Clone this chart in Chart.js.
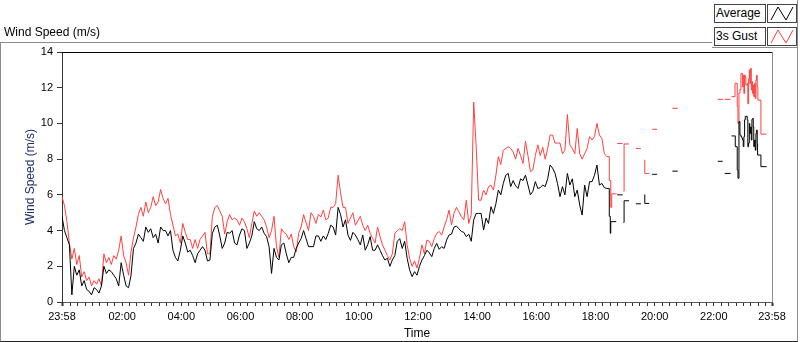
<!DOCTYPE html>
<html>
<head>
<meta charset="utf-8">
<script src="https://cdn.jsdelivr.net/npm/chart.js@4.4.1/dist/chart.umd.min.js"></script>
<style>
  body { margin: 0; background: #fff; font-family: "Liberation Sans", Arial, sans-serif; }
  #wrap { position: relative; width: 800px; height: 342px; overflow: hidden; }
  #chart { position: absolute; left: 0; top: 0; }
  #frame { position: absolute; left: 0; top: 42px; width: 796px; height: 298px; border: 1px solid #8c8c8c; border-bottom-color: #222; pointer-events: none; }
  #title { position: absolute; left: 4px; top: 25px; font-size: 12px; color: #000; }
  #legpanel { position: absolute; left: 712px; top: 0; width: 85px; height: 47px; background: #fff; border-bottom: 1px solid #8c8c8c; border-right: 1px solid #8c8c8c; }
  .lbl { position: absolute; left: 714px; width: 49px; height: 17px; border: 1px solid #444; font-size: 12px; line-height: 17px; padding-left: 1px; box-sizing: content-box; background: #fff; }
  .ico { position: absolute; left: 767px; width: 28px; height: 17px; border: 1px solid #444; background: #fff; }
</style>
</head>
<body>
<div id="wrap">
  <canvas id="chart" width="800" height="342"></canvas>
  <div id="frame"></div>
  <div id="title">Wind Speed (m/s)</div>
  <div id="legpanel"></div>
  <div class="lbl" style="top:4px">Average</div>
  <div class="ico" style="top:4px"><svg width="28" height="17"><polyline points="3,15 10,2 18,15 25,2" fill="none" stroke="#000" stroke-width="1"/></svg></div>
  <div class="lbl" style="top:27px">3s Gust</div>
  <div class="ico" style="top:27px"><svg width="28" height="17"><polyline points="3,15 10,2 18,15 25,2" fill="none" stroke="#ff4040" stroke-width="1"/></svg></div>
</div>
<script>
// minutes after 23:58, dense part sampled every 5 min (0 .. 1105)
var step = 5;

var avgDense = [
  4.8,4.0,3.6,3.2,0.4,2.0,1.5,1.8,0.9,1.2,0.7,0.6,
  0.4,0.8,0.7,0.5,0.9,2.0,1.6,1.8,1.7,1.5,1.3,0.9,
  2.2,1.5,0.9,0.8,1.5,3.0,3.3,3.8,3.6,3.4,4.2,3.9,
  4.1,3.6,3.8,3.3,4.2,4.0,4.0,3.7,4.0,2.9,2.5,2.3,
  2.9,3.7,3.3,2.8,2.9,2.6,2.2,2.7,2.9,3.1,2.9,2.3,
  2.35,3.85,4.2,4.3,3.7,3.0,3.3,3.9,3.85,4.0,3.3,3.2,
  3.75,4.1,4.0,3.0,3.3,3.7,4.5,4.1,4.0,4.2,3.85,3.66,
  3.1,1.6,3.0,2.5,2.35,3.2,3.3,2.7,2.2,2.5,2.5,3.0,
  3.3,3.55,4.0,3.55,3.1,3.1,3.1,3.7,3.7,3.4,3.7,3.5,
  3.85,4.3,4.2,3.75,5.3,4.9,4.2,4.6,3.75,3.45,3.9,3.75,
  3.5,3.2,3.75,2.9,3.2,3.66,2.9,2.9,3.2,2.9,2.6,2.35,
  2.45,2.0,2.35,2.6,3.4,3.55,3.0,3.4,2.45,1.8,1.42,1.7,
  1.5,2.0,2.35,2.6,2.9,2.75,2.54,3.0,3.28,2.95,3.1,3.0,
  3.47,3.75,3.8,4.2,4.25,4.1,3.95,3.9,3.66,3.8,3.4,4.6,
  4.96,4.96,4.96,4.03,4.7,4.4,5.34,4.96,5.5,6.27,6.0,6.64,
  7.1,7.2,6.46,6.8,6.5,6.36,6.9,6.8,7.1,6.55,6.0,6.2,
  6.74,6.36,6.4,6.55,6.46,6.9,7.67,7.5,7.2,6.64,5.9,6.46,
  6.0,7.2,6.55,6.9,5.9,6.27,5.43,4.87,6.55,5.9,6.74,6.74,
  7.1,7.67,6.55,6.64,6.4,6.36
];

var gustDense = [
  5.9,5.4,4.5,3.3,2.4,3.0,2.1,2.6,1.4,1.7,1.2,1.4,
  0.9,1.2,1.0,1.3,0.9,2.7,2.2,2.5,2.1,2.6,2.4,2.9,
  3.7,2.6,2.2,1.5,2.8,3.6,4.2,4.9,5.3,4.8,5.6,5.0,
  5.3,5.9,5.4,5.6,6.3,5.8,5.5,5.8,4.9,4.3,3.7,3.8,
  3.3,4.4,3.9,3.5,3.5,3.0,3.5,3.0,3.5,3.7,3.9,2.7,
  2.7,4.8,5.3,5.4,5.1,4.8,3.8,4.5,4.9,4.6,4.7,4.6,
  4.3,4.7,4.5,4.1,3.6,4.4,5.1,4.8,5.0,4.8,4.6,4.2,
  3.6,4.0,4.8,3.1,2.5,4.1,3.9,3.8,3.5,3.8,3.1,2.8,
  3.85,4.2,4.9,4.45,4.0,5.0,4.8,4.4,4.9,4.75,5.15,4.6,
  4.7,5.3,5.3,5.5,7.1,6.1,5.3,5.3,4.4,4.7,5.0,4.3,
  4.55,4.8,4.3,4.0,4.3,3.85,3.55,3.3,4.2,3.66,3.2,2.9,
  2.6,2.35,2.7,3.85,4.0,4.1,4.0,4.5,3.2,2.45,2.0,2.3,
  1.9,2.45,3.2,2.7,3.47,3.4,3.1,3.55,3.85,3.95,3.75,4.2,
  4.6,5.15,4.3,4.96,5.3,5.05,4.78,4.6,5.7,4.4,4.9,11.2,
  8.7,5.7,5.7,6.27,6.0,6.46,6.55,6.27,7.1,8.14,7.7,8.5,
  8.6,8.7,8.6,8.4,8.0,8.6,8.2,7.76,9.0,8.2,7.3,7.4,
  8.2,8.8,8.2,8.66,8.0,8.6,9.35,9.35,8.9,8.9,8.9,8.3,
  8.5,10.5,8.8,8.6,8.3,9.72,8.3,8.0,8.3,8.6,9.26,9.07,
  9.26,10.0,9.35,9.16,8.3,8.14
];

// patchy evening record (null = no data)
var avgTailTime = [1105,1110,1112,1113,1124,1125, 1126,1137,1138, 1139,1140,1150,1157, 1164,1174,1178,
  1181,1182,1191,1194, 1197,1207,1220, 1238,1249,1290, 1330,1340,1342, 1344,1356,1357,
  1358,1365.5,1369.5,1371,1373,1375,1377,1379,1380.4,1381.7,1383,1384.4,1385.8,1389.8,1391,
  1392.5,1394,1395,1396.6,1398,1399.3,1400.6,1402,1403,1404.7,1406,1407.4,1408.7,1410,1410.7,1417.5,1429];
var avgTailValue = [6.36,4.8,3.85,4.5,4.5,null, 6.0,6.0,null, 4.45,5.67,5.67,null, 5.5,5.5,null,
  6.0,5.52,5.52,null, 7.15,7.15,null, 7.33,7.33,null, 7.88,7.88,null, 7.2,7.2,null,
  9.3,8.7,7.4,6.93,10.1,9.35,9.26,9.16,9.07,8.7,9.26,10.2,10.4,10.2,8.7,
  8.9,10.0,9.44,9.8,9.07,10.23,10.28,9.8,8.7,9.07,8.5,9.44,9.63,8.88,8.23,7.58,7.58];

var gustTailTime = [1105,1110,1113,1115,1125,1125.5, 1126,1137,1138, 1139,1140,1150,1157, 1164,1174,1178,
  1181,1182,1191,1194, 1197,1207,1220, 1238,1249,1290, 1330,1341,1342.5, 1344,1356,1357,
  1358,1365,1369.5,1371,1373,1375,1377,1379,1380.4,1381.7,1383,1384.4,1385.8,1387,1389.8,1391,
  1392.5,1394,1395,1396.6,1398,1399.3,1400.6,1402,1403,1404.7,1406,1407.4,1408.7,1410,1411.4,1417.5,1429];
var gustTailValue = [8.14,6.8,5.3,6.06,6.06,null, 8.88,8.88,null, 6.2,8.85,8.85,null, 8.6,8.6,null,
  7.95,7.2,7.2,null, 9.67,9.67,null, 10.85,10.85,null, 11.35,11.35,null, 11.35,11.35,null,
  11.5,12.25,10.95,10.0,11.7,11.9,12.8,12.8,12.05,12.7,11.68,12.7,12.6,12.15,12.24,11.1,
  12.5,13.0,12.24,13.08,11.87,12.34,11.68,12.15,11.5,12.24,11.4,12.43,12.7,12.05,11.3,9.4,9.4];

var majorTicks = [0,122,242,362,482,602,722,842,962,1082,1202,1322,1440];
var majorLabels = ['23:58','02:00','04:00','06:00','08:00','10:00','12:00','14:00','16:00','18:00','20:00','22:00','23:58'];

function densePoints(dense) {
  var pts = [];
  for (var i = 0; i < dense.length; i++) pts.push({x: i * step, y: dense[i]});
  return pts;
}
function tailPoints(tailT, tailV) {
  var pts = [];
  for (var j = 0; j < tailT.length; j++) pts.push({x: tailT[j], y: tailV[j]});
  return pts;
}

var tickMinutes = [0];
for (var m = 17; m < 1440; m += 15) tickMinutes.push(m);
tickMinutes.push(1440);

const plotFrame = {
  id: 'plotFrame',
  afterDraw(chart) {
    const {ctx, chartArea: a} = chart;
    ctx.save();
    ctx.lineWidth = 1;
    ctx.strokeStyle = '#000';
    ctx.beginPath(); ctx.moveTo(a.left, a.top + 0.5); ctx.lineTo(a.right, a.top + 0.5); ctx.stroke();
    ctx.strokeStyle = '#8c8c8c';
    ctx.beginPath(); ctx.moveTo(a.right + 0.5, a.top); ctx.lineTo(a.right + 0.5, a.bottom); ctx.stroke();
    ctx.restore();
  }
};

function series(label, pts, color, stepped) {
  return { label: label, data: pts, borderColor: color, borderWidth: 1, stepped: stepped,
           pointRadius: 0, spanGaps: false, tension: 0 };
}

new Chart(document.getElementById('chart'), {
  type: 'line',
  data: {
    datasets: [
      series('Average', densePoints(avgDense), '#000000', false),
      series('Average', tailPoints(avgTailTime, avgTailValue), '#000000', true),
      series('3s Gust', densePoints(gustDense), '#ff4040', false),
      series('3s Gust', tailPoints(gustTailTime, gustTailValue), '#ff4040', true)
    ]
  },
  options: {
    responsive: false,
    devicePixelRatio: 1,
    animation: false,
    layout: { padding: { top: 52, right: 28, left: 0, bottom: 0 } },
    plugins: { legend: { display: false }, tooltip: { enabled: false } },
    scales: {
      x: {
        type: 'linear',
        min: 0,
        max: 1440,
        afterBuildTicks: function(scale) {
          scale.ticks = tickMinutes.map(function(v) { return {value: v}; });
        },
        afterFit: function(scale) { scale.height = 40; },
        ticks: {
          autoSkip: false,
          maxRotation: 0,
          color: '#000',
          padding: 4,
          font: { family: 'Liberation Sans', size: 11 },
          callback: function(v) {
            var k = majorTicks.indexOf(v);
            return k >= 0 ? majorLabels[k] : '';
          }
        },
        grid: {
          drawOnChartArea: false,
          tickLength: 4,
          tickColor: '#333',
          tickWidth: function(c) { return (c.tick && (c.tick.value === 0 || c.tick.value === 1440)) ? 2 : 1; }
        },
        border: { color: '#555' },
        title: { display: true, text: 'Time', color: '#000', font: { family: 'Liberation Sans', size: 12 }, padding: { top: 0, bottom: 1 } }
      },
      y: {
        min: 0,
        max: 14,
        afterFit: function(scale) { scale.width = 62; },
        ticks: {
          stepSize: 2,
          color: '#000',
          padding: 4,
          font: { family: 'Liberation Sans', size: 11 }
        },
        grid: { drawOnChartArea: false, tickLength: 5, tickColor: '#333' },
        border: { color: '#333' },
        title: { display: true, text: 'Wind Speed (m/s)', color: '#1e2b66', font: { family: 'Liberation Sans', size: 12 }, padding: { top: 23, bottom: 0 } }
      }
    }
  },
  plugins: [plotFrame]
});
</script>
</body>
</html>
